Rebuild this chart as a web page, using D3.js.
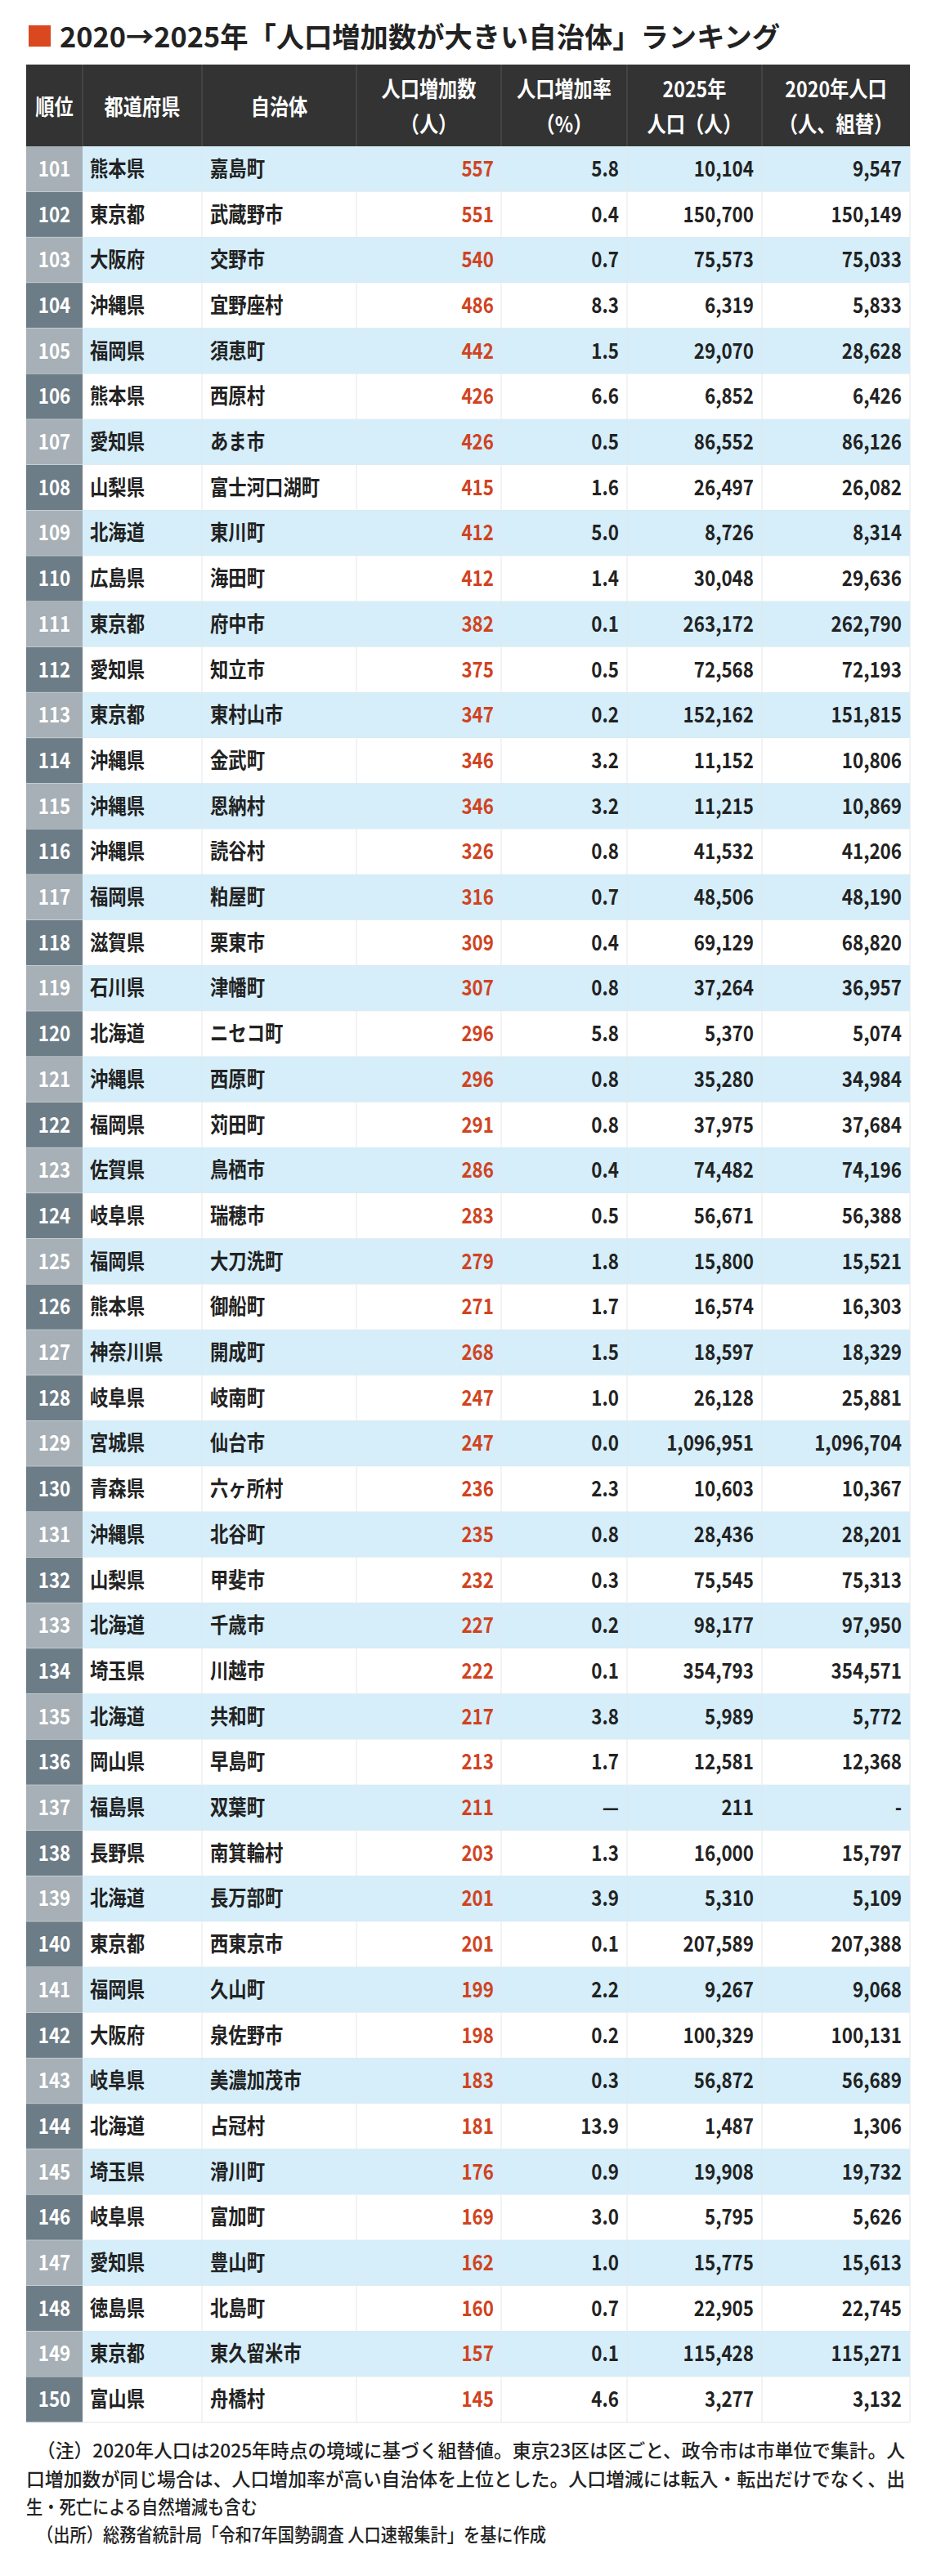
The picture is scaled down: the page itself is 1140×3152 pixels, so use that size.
<!DOCTYPE html><html><head><meta charset="utf-8"><script src="https://cdn.jsdelivr.net/npm/d3@7"></script>
<style>body{margin:0;background:#fff}</style></head><body><svg id="c" width="1140" height="3152"></svg>
<script>
const ranks=d3.range(101,151);
const prefs=["熊本県","東京都","大阪府","沖縄県","福岡県","熊本県","愛知県","山梨県","北海道","広島県","東京都","愛知県","東京都","沖縄県","沖縄県","沖縄県","福岡県","滋賀県","石川県","北海道","沖縄県","福岡県","佐賀県","岐阜県","福岡県","熊本県","神奈川県","岐阜県","宮城県","青森県","沖縄県","山梨県","北海道","埼玉県","北海道","岡山県","福島県","長野県","北海道","東京都","福岡県","大阪府","岐阜県","北海道","埼玉県","岐阜県","愛知県","徳島県","東京都","富山県"];
const munis=["嘉島町","武蔵野市","交野市","宜野座村","須恵町","西原村","あま市","富士河口湖町","東川町","海田町","府中市","知立市","東村山市","金武町","恩納村","読谷村","粕屋町","栗東市","津幡町","ニセコ町","西原町","苅田町","鳥栖市","瑞穂市","大刀洗町","御船町","開成町","岐南町","仙台市","六ヶ所村","北谷町","甲斐市","千歳市","川越市","共和町","早島町","双葉町","南箕輪村","長万部町","西東京市","久山町","泉佐野市","美濃加茂市","占冠村","滑川町","富加町","豊山町","北島町","東久留米市","舟橋村"];
const increase=[557,551,540,486,442,426,426,415,412,412,382,375,347,346,346,326,316,309,307,296,296,291,286,283,279,271,268,247,247,236,235,232,227,222,217,213,211,203,201,201,199,198,183,181,176,169,162,160,157,145];
const rate=["5.8","0.4","0.7","8.3","1.5","6.6","0.5","1.6","5.0","1.4","0.1","0.5","0.2","3.2","3.2","0.8","0.7","0.4","0.8","5.8","0.8","0.8","0.4","0.5","1.8","1.7","1.5","1.0","0.0","2.3","0.8","0.3","0.2","0.1","3.8","1.7","—","1.3","3.9","0.1","2.2","0.2","0.3","13.9","0.9","3.0","1.0","0.7","0.1","4.6"];
const pop2025=[10104,150700,75573,6319,29070,6852,86552,26497,8726,30048,263172,72568,152162,11152,11215,41532,48506,69129,37264,5370,35280,37975,74482,56671,15800,16574,18597,26128,1096951,10603,28436,75545,98177,354793,5989,12581,211,16000,5310,207589,9267,100329,56872,1487,19908,5795,15775,22905,115428,3277];
const pop2020=[9547,150149,75033,5833,28628,6426,86126,26082,8314,29636,262790,72193,151815,10806,10869,41206,48190,68820,36957,5074,34984,37684,74196,56388,15521,16303,18329,25881,1096704,10367,28201,75313,97950,354571,5772,12368,null,15797,5109,207388,9068,100131,56689,1306,19732,5626,15613,22745,115271,3132];
const headers=[["順位"],["都道府県"],["自治体"],["人口増加数","（人）"],["人口増加率","（%）"],["2025年","人口（人）"],["2020年人口","（人、組替）"]];
const notes=["（注）2020年人口は2025年時点の境域に基づく組替値。東京23区は区ごと、政令市は市単位で集計。人","口増加数が同じ場合は、人口増加率が高い自治体を上位とした。人口増減には転入・転出だけでなく、出","生・死亡による自然増減も含む","（出所）総務省統計局「令和7年国勢調査 人口速報集計」を基に作成"];

const svg=d3.select("#c"), F="'Noto Sans CJK JP','Noto Sans',sans-serif";
const cols=[32,101,247,436,613,767,932,1113];
const tableTop=179, rh=55.7;
const y=d3.scaleLinear().domain([0,50]).range([tableTop,tableTop+rh*50]);
const fmt=d3.format(",");
function txt(g,x,yy,s,anchor,size,fill,sx=0.86){
  g.append("text").attr("transform",`translate(${x},${yy}) scale(${sx},1)`).attr("text-anchor",anchor)
   .attr("font-family",F).attr("font-weight",700).attr("font-size",size).attr("fill",fill).text(s);
}
svg.append("rect").attr("x",35).attr("y",31).attr("width",27).attr("height",26).attr("fill","#d9481f");
svg.append("text").attr("x",73).attr("y",58).attr("font-family",F).attr("font-weight",700).attr("font-size",34)
 .attr("fill","#222").attr("textLength",881).attr("lengthAdjust","spacingAndGlyphs").text("2020→2025年「人口増加数が大きい自治体」ランキング");
svg.append("rect").attr("x",32).attr("y",79).attr("width",1081).attr("height",100).attr("fill","#333");
headers.forEach((h,i)=>{
  const cx=(cols[i]+cols[i+1])/2;
  if(i>0) svg.append("line").attr("x1",cols[i]).attr("x2",cols[i]).attr("y1",79).attr("y2",179).attr("stroke","#555");
  if(h.length==1) txt(svg,cx,141,h[0],"middle",27,"#fff");
  else {txt(svg,cx,119,h[0],"middle",27,"#fff");txt(svg,cx,162,h[1],"middle",27,"#fff");}
});
const g=svg.append("g");
ranks.forEach((r,i)=>{
  const y0=y(i), odd=i%2==0, cy=y0+rh/2+9;
  g.append("rect").attr("x",32).attr("y",y0).attr("width",1081).attr("height",rh).attr("fill",odd?"#d5eefa":"#fff");
  g.append("rect").attr("x",32).attr("y",y0).attr("width",69).attr("height",rh).attr("fill",odd?"#a7b0b6":"#6d7d88");
  g.append("line").attr("x1",32).attr("x2",1113).attr("y1",y0+rh).attr("y2",y0+rh).attr("stroke","#dfe6ea");
  for(let c=2;c<8;c++) g.append("line").attr("x1",cols[c]).attr("x2",cols[c]).attr("y1",y0).attr("y2",y0+rh).attr("stroke","#e3e8eb");
  txt(g,66.5,cy,r,"middle",26,"#fff");
  txt(g,110,cy,prefs[i],"start",26,"#222");
  txt(g,257,cy,munis[i],"start",26,"#222");
  txt(g,cols[4]-9,cy,increase[i],"end",26,"#d04321");
  txt(g,cols[5]-10,cy,rate[i],"end",26,"#222");
  txt(g,cols[6]-10,cy,fmt(pop2025[i]),"end",26,"#222");
  txt(g,cols[7]-10,cy,pop2020[i]==null?"-":fmt(pop2020[i]),"end",26,"#222");
});
const nl=[[45,1107],[32,1107],[32,null],[45,null]];
notes.forEach((n,i)=>{
  const t=svg.append("text").attr("x",nl[i][0]).attr("y",3007+i*34.5).attr("font-family",F).attr("font-weight",500)
   .attr("font-size",23).attr("fill","#222").text(n);
  if(nl[i][1]) t.attr("textLength",nl[i][1]-nl[i][0]).attr("lengthAdjust","spacingAndGlyphs");
  else t.attr("transform",`translate(${nl[i][0]*0.12},0) scale(0.88,1)`);
});
</script></body></html>
